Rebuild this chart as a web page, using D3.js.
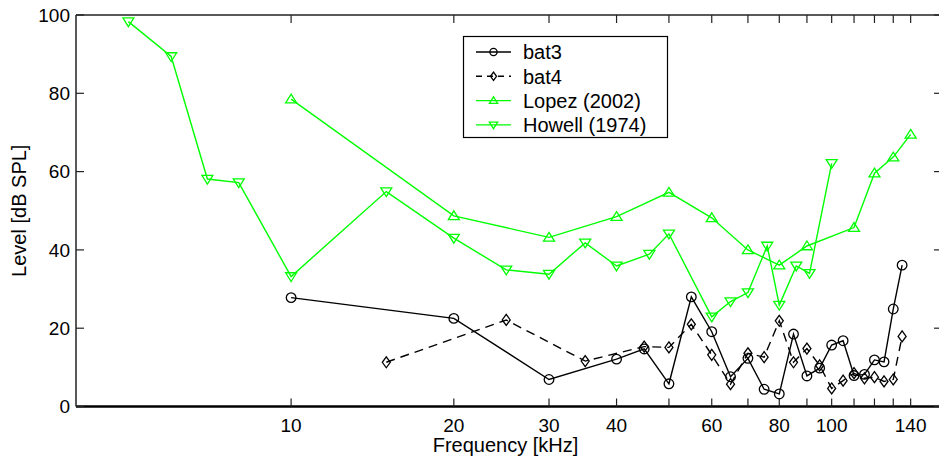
<!DOCTYPE html>
<html>
<head>
<meta charset="utf-8">
<script src="https://cdn.jsdelivr.net/npm/d3@7"></script>
<style>
  body { margin: 0; background: #fff; }
  text { font-family: "Liberation Sans", Arial, sans-serif; }
</style>
</head>
<body>
<div id="chart"></div>
<script>
const bat3Freq = [10, 20, 30, 40, 45, 50, 55, 60, 65, 70, 75, 80, 85, 90, 95, 100, 105, 110, 115, 120, 125, 130, 135];
const bat3Level = [27.8, 22.5, 6.9, 12.1, 14.7, 5.8, 28.0, 19.1, 7.6, 12.3, 4.4, 3.2, 18.5, 7.8, 9.8, 15.7, 16.8, 7.9, 8.2, 11.9, 11.4, 24.9, 36.1];

const bat4Freq = [15, 25, 35, 45, 50, 55, 60, 65, 70, 75, 80, 85, 90, 95, 100, 105, 110, 115, 120, 125, 130, 135];
const bat4Level = [11.3, 22.1, 11.6, 15.3, 15.1, 21.0, 13.2, 5.7, 13.6, 12.6, 21.9, 11.3, 14.8, 10.5, 4.6, 6.6, 8.5, 7.2, 7.5, 6.4, 6.9, 17.9];

const lopezFreq = [10, 20, 30, 40, 50, 60, 70, 80, 90, 110, 120, 130, 140];
const lopezLevel = [78.5, 48.7, 43.2, 48.5, 54.7, 48.2, 40.0, 36.1, 41.0, 45.7, 59.6, 63.7, 69.5];

const howellFreq = [5, 6, 7, 8, 10, 15, 20, 25, 30, 35, 40, 46, 50, 60, 65, 70, 76, 80, 86, 91, 100];
const howellLevel = [98.3, 89.4, 58.1, 57.2, 33.2, 54.9, 43.0, 34.9, 33.8, 41.8, 35.9, 38.9, 44.1, 22.9, 26.8, 29.1, 41.0, 25.9, 35.9, 34.0, 62.1];

const xTicks = [10, 20, 30, 40, 50, 60, 70, 80, 90, 100, 110, 120, 130, 140];
const xTickLabels = [10, 20, 30, 40, 60, 80, 100, 140];
const yTicks = [0, 20, 40, 60, 80, 100];

const series = [
  { name: "bat3", freq: bat3Freq, level: bat3Level, color: "#000", dash: null, marker: "circle" },
  { name: "bat4", freq: bat4Freq, level: bat4Level, color: "#000", dash: "9,6", marker: "diamond" },
  { name: "Lopez (2002)", freq: lopezFreq, level: lopezLevel, color: "#00ff00", dash: null, marker: "up" },
  { name: "Howell (1974)", freq: howellFreq, level: howellLevel, color: "#00ff00", dash: null, marker: "down" },
];

const width = 939;
const height = 459;
const margin = { top: 15, right: -3, bottom: 52.5, left: 76 };

const x = d3.scaleLog().domain([4, 160]).range([margin.left, width - margin.right]);
const y = d3.scaleLinear().domain([0, 100]).range([height - margin.bottom, margin.top]);

const svg = d3
  .select("#chart")
  .append("svg")
  .attr("width", width)
  .attr("height", height);

// marker shapes
const markerPath = (type, s) => {
  if (type === "diamond") return `M0,${-s * 1.1}L${s * 0.8},0L0,${s * 1.1}L${-s * 0.8},0Z`;
  if (type === "up") return `M0,${-s}L${s * 1.1},${s * 0.75}L${-s * 1.1},${s * 0.75}Z`;
  if (type === "down") return `M0,${s}L${s * 1.1},${-s * 0.75}L${-s * 1.1},${-s * 0.75}Z`;
  return null;
};

// box
const x0 = margin.left;
const x1 = width - margin.right;
const y0 = height - margin.bottom;
const y1 = margin.top;

const plot = svg.append("g");

series.forEach((s) => {
  const pts = s.freq.map((f, i) => [f, s.level[i]]);
  const line = d3.line().x((d) => x(d[0])).y((d) => y(d[1]));

  plot.append("path")
    .datum(pts)
    .attr("d", line)
    .attr("fill", "none")
    .attr("stroke", s.color)
    .attr("stroke-width", 1.4)
    .attr("stroke-dasharray", s.dash);

  const g = plot.selectAll(null)
    .data(pts)
    .enter()
    .append("g")
    .attr("transform", (d) => `translate(${x(d[0])},${y(d[1])})`);

  if (s.marker === "circle") {
    g.append("circle").attr("r", 4.8)
      .attr("fill", "none").attr("stroke", s.color).attr("stroke-width", 1.3);
  } else {
    g.append("path").attr("d", markerPath(s.marker, 5))
      .attr("fill", "none").attr("stroke", s.color).attr("stroke-width", 1.3);
  }
});

// axes
const tickLen = 8;
const axes = svg.append("g").attr("stroke", "#222");

axes.append("line").attr("x1", x0).attr("x2", x1).attr("y1", y0).attr("y2", y0).attr("stroke", "#000").attr("stroke-width", 2.5);
axes.append("line").attr("x1", x0).attr("x2", x1).attr("y1", y1).attr("y2", y1).attr("stroke-width", 1.5);
axes.append("line").attr("x1", x0).attr("x2", x0).attr("y1", y1).attr("y2", y0).attr("stroke-width", 1.5);
axes.append("line").attr("x1", x1).attr("x2", x1).attr("y1", y1).attr("y2", y0).attr("stroke-width", 1.5);

xTicks.forEach((t) => {
  axes.append("line").attr("x1", x(t)).attr("x2", x(t)).attr("y1", y0).attr("y2", y0 - tickLen).attr("stroke-width", 1.2);
  axes.append("line").attr("x1", x(t)).attr("x2", x(t)).attr("y1", y1).attr("y2", y1 + tickLen).attr("stroke-width", 1.2);
});
yTicks.forEach((t) => {
  axes.append("line").attr("x1", x0).attr("x2", x0 + tickLen).attr("y1", y(t)).attr("y2", y(t)).attr("stroke-width", 1.2);
  axes.append("line").attr("x1", x1).attr("x2", x1 - tickLen).attr("y1", y(t)).attr("y2", y(t)).attr("stroke-width", 1.2);
});

svg.selectAll(".xlab")
  .data(xTickLabels)
  .enter()
  .append("text")
  .attr("x", (d) => x(d))
  .attr("y", 432)
  .attr("text-anchor", "middle")
  .style("font-size", "19px")
  .text((d) => d);

svg.selectAll(".ylab")
  .data(yTicks)
  .enter()
  .append("text")
  .attr("x", x0 - 6)
  .attr("y", (d) => y(d))
  .attr("dy", "0.36em")
  .attr("text-anchor", "end")
  .style("font-size", "19px")
  .text((d) => d);

svg.append("text")
  .attr("x", (x0 + 935) / 2)
  .attr("y", 452)
  .attr("text-anchor", "middle")
  .style("font-size", "20px")
  .text("Frequency [kHz]");

svg.append("text")
  .attr("transform", `translate(26,${(y0 + y1) / 2}) rotate(-90)`)
  .attr("text-anchor", "middle")
  .style("font-size", "20px")
  .text("Level [dB SPL]");

// legend
const legend = svg.append("g");
legend.append("rect")
  .attr("x", 463.5).attr("y", 36.5)
  .attr("width", 204).attr("height", 101)
  .attr("fill", "#fff").attr("stroke", "#000").attr("stroke-width", 1.2);

series.forEach((s, i) => {
  const ly = 52 + i * 24.3;
  legend.append("line")
    .attr("x1", 476).attr("x2", 511).attr("y1", ly).attr("y2", ly)
    .attr("stroke", s.color).attr("stroke-width", 1.4)
    .attr("stroke-dasharray", s.dash ? "6,5" : null);
  if (s.marker === "circle") {
    legend.append("circle").attr("cx", 493.5).attr("cy", ly).attr("r", 3.6)
      .attr("fill", "none").attr("stroke", s.color).attr("stroke-width", 1.3);
  } else {
    legend.append("path").attr("d", markerPath(s.marker, 3.8))
      .attr("transform", `translate(493.5,${ly})`)
      .attr("fill", "none").attr("stroke", s.color).attr("stroke-width", 1.3);
  }
  legend.append("text")
    .attr("x", 523).attr("y", ly).attr("dy", "0.36em")
    .style("font-size", "20px")
    .text(s.name);
});
</script>
</body>
</html>
